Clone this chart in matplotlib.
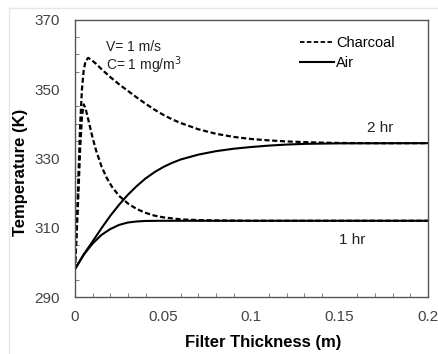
import matplotlib
matplotlib.use('Agg')
import matplotlib.pyplot as plt
from matplotlib.ticker import MultipleLocator
from matplotlib.lines import Line2D

plt.rcParams['font.family'] = ['Liberation Sans', 'DejaVu Sans']

# Charcoal, 2 hr
x_char_2 = [0, 0.001, 0.002, 0.003, 0.004, 0.005, 0.006, 0.0075, 0.009, 0.012,
            0.015, 0.02, 0.025, 0.03, 0.035, 0.04, 0.045, 0.05, 0.055, 0.06,
            0.07, 0.08, 0.09, 0.1, 0.11, 0.12, 0.13, 0.14, 0.15, 0.17, 0.2]
t_char_2 = [298, 310, 325, 340, 350, 355.5, 358, 359, 358.6, 357.3,
            355.8, 353.5, 351.4, 349.5, 347.6, 345.8, 344.1, 342.6, 341.3, 340.2,
            338.4, 337.1, 336.2, 335.6, 335.2, 334.9, 334.7, 334.55, 334.45, 334.4, 334.4]

# Charcoal, 1 hr
x_char_1 = [0, 0.001, 0.002, 0.003, 0.004, 0.005, 0.006, 0.008, 0.010, 0.012,
            0.015, 0.018, 0.021, 0.025, 0.03, 0.035, 0.04, 0.045, 0.05, 0.06,
            0.07, 0.08, 0.1, 0.2]
t_char_1 = [298, 308, 320, 333, 342, 345.6, 344.5, 340.3, 336, 332.3,
            327.8, 324.4, 321.8, 319.2, 317, 315.4, 314.3, 313.5, 313, 312.4,
            312.2, 312.1, 312, 312]

# Air, 2 hr
x_air_2 = [0, 0.005, 0.01, 0.015, 0.02, 0.025, 0.03, 0.035, 0.04, 0.045,
           0.05, 0.055, 0.06, 0.07, 0.08, 0.09, 0.1, 0.11, 0.12, 0.13,
           0.15, 0.2]
t_air_2 = [298, 302.3, 306, 309.8, 313.4, 316.6, 319.5, 322, 324.2, 326,
           327.5, 328.7, 329.7, 331.1, 332.1, 332.8, 333.3, 333.7, 334, 334.2,
           334.35, 334.4]

# Air, 1 hr
x_air_1 = [0, 0.005, 0.01, 0.015, 0.02, 0.025, 0.03, 0.035, 0.04, 0.05,
           0.06, 0.2]
t_air_1 = [298, 302.2, 305.4, 307.9, 309.6, 310.8, 311.5, 311.8, 311.95, 312,
           312, 312]

x_ticks = [0, 0.05, 0.1, 0.15, 0.2]
x_tick_labels = ['0', '0.05', '0.1', '0.15', '0.2']
y_ticks = [290, 310, 330, 350, 370]

fig = plt.figure(figsize=(4.38, 3.54), dpi=100)
ax = fig.add_axes([0.171, 0.161, 0.806, 0.783])

# faint outer chart border
fig.add_artist(Line2D([0.021, 1.0], [0.977, 0.977], transform=fig.transFigure,
                      color='#e6e6e6', lw=1))
fig.add_artist(Line2D([0.021, 0.021], [0.0, 0.977], transform=fig.transFigure,
                      color='#e6e6e6', lw=1))

dash = (0, (2.3, 1.2))
ax.plot(x_char_2, t_char_2, color='black', lw=1.6, ls=dash)
ax.plot(x_char_1, t_char_1, color='black', lw=1.6, ls=dash)
ax.plot(x_air_2, t_air_2, color='black', lw=1.5)
ax.plot(x_air_1, t_air_1, color='black', lw=1.5)

ax.set_xlim(0, 0.2)
ax.set_ylim(290, 370)
ax.set_xticks(x_ticks)
ax.set_xticklabels(x_tick_labels)
ax.set_yticks(y_ticks)
ax.xaxis.set_minor_locator(MultipleLocator(0.01))
ax.yaxis.set_minor_locator(MultipleLocator(5))
ax.tick_params(which='both', direction='in', colors='#666666', labelcolor='#444444',
               labelsize=11)
ax.tick_params(which='major', length=0)
ax.tick_params(which='minor', length=3)
ax.tick_params(axis='x', pad=9)
ax.tick_params(axis='y', pad=11)
for s in ax.spines.values():
    s.set_color('#555555')
    s.set_linewidth(1.0)

ax.set_xlabel('Filter Thickness (m)', fontsize=12, fontweight='bold')
ax.set_ylabel('Temperature (K)', fontsize=12, fontweight='bold')
ax.xaxis.set_label_coords(0.533, -0.137)
ax.yaxis.set_label_coords(-0.133, 0.451)

ax.text(0.0175, 362.2, 'V= 1 m/s', fontsize=10, color='#222222', va='center')
ax.text(0.0175, 356.8, 'C= 1 mg/m$^3$', fontsize=10, color='#222222', va='center')
ax.text(0.173, 338.8, '2 hr', fontsize=11, color='#222222', ha='center', va='center')
ax.text(0.157, 306.5, '1 hr', fontsize=11, color='#222222', ha='center', va='center')

handles = [Line2D([], [], color='black', lw=1.3, ls=(0, (2.5, 1.3))),
           Line2D([], [], color='black', lw=1.5)]
ax.legend(handles, ['Charcoal', 'Air'], loc='upper right', frameon=False,
          bbox_to_anchor=(0.905, 0.94), borderaxespad=0, borderpad=0,
          fontsize=10.5, handlelength=2.3, handletextpad=0.15, labelspacing=0.4)

fig.savefig('out.png', dpi=100)
